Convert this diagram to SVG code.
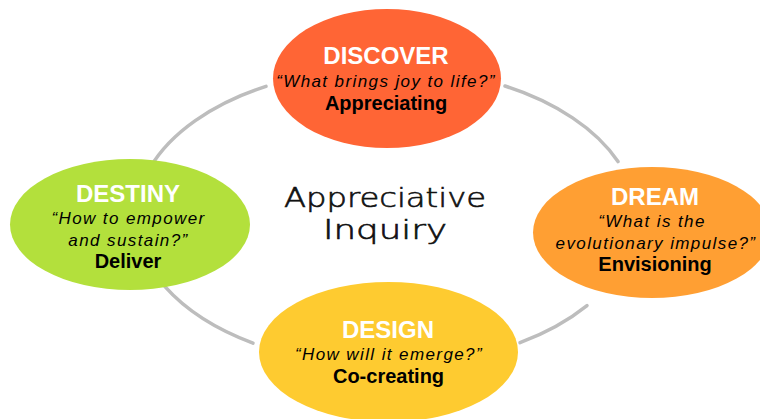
<svg xmlns="http://www.w3.org/2000/svg" width="760" height="419" viewBox="0 0 760 419">
<defs>
<filter id="soft" x="-10%" y="-10%" width="120%" height="120%"><feGaussianBlur stdDeviation="0.7"/></filter>
</defs>
<style>
.arc{fill:none;stroke:#bdbdbd;stroke-width:3.5;stroke-linecap:round;filter:url(#soft)}
.title{font-family:"Liberation Sans",Arial,sans-serif;font-weight:bold;font-size:24px;fill:#ffffff;text-anchor:middle}
.q{font-family:"Liberation Sans",Arial,sans-serif;font-style:italic;font-size:17px;letter-spacing:1.4px;fill:#000;text-anchor:middle}
.sub{font-family:"Liberation Sans",Arial,sans-serif;font-weight:bold;font-size:20px;fill:#000;text-anchor:middle}
.hand{font-family:"Segoe Print","Comic Sans MS","DejaVu Sans",sans-serif;font-size:26px;font-weight:200;fill:#111;stroke:#111;stroke-width:0.6;text-anchor:middle}
</style>
<rect width="760" height="419" fill="#ffffff"/>
<g id="connectors">
<path class="arc" d="M150 167.8 A250 149 0 0 1 266 86.3"/>
<path class="arc" d="M505 86 A250 149 0 0 1 618 161.6"/>
<path class="arc" d="M587 305.6 A250 149 0 0 1 520 342.7"/>
<path class="arc" d="M253 343.2 A250 149 0 0 1 165 286.7"/>
</g>
<g id="center-label">
<text class="hand" x="385" y="207" textLength="202" lengthAdjust="spacingAndGlyphs">Appreciative</text>
<text class="hand" x="385" y="239" textLength="124" lengthAdjust="spacingAndGlyphs">Inquiry</text>
</g>
<g id="discover">
<ellipse cx="387" cy="78.5" rx="114" ry="69.5" fill="#ff6535"/>
<text class="title" x="386" y="64">DISCOVER</text>
<text class="q" x="386" y="87">“What brings joy to life?”</text>
<text class="sub" x="386" y="110">Appreciating</text>
</g>
<g id="dream">
<ellipse cx="652" cy="232.5" rx="119" ry="65.5" fill="#ff9f33"/>
<text class="title" x="655" y="205">DREAM</text>
<text class="q" x="652" y="227">“What is the</text>
<text class="q" x="656" y="249">evolutionary impulse?”</text>
<text class="sub" x="655" y="271">Envisioning</text>
</g>
<g id="design">
<ellipse cx="388.5" cy="352" rx="129.5" ry="70" fill="#fecb30"/>
<text class="title" x="388" y="338">DESIGN</text>
<text class="q" x="389" y="360">“How will it emerge?”</text>
<text class="sub" x="388.5" y="383">Co-creating</text>
</g>
<g id="destiny">
<ellipse cx="130" cy="224.5" rx="120" ry="65.5" fill="#b3e03c"/>
<text class="title" x="128" y="202">DESTINY</text>
<text class="q" x="128.5" y="224">“How to empower</text>
<text class="q" x="128.5" y="246">and sustain?”</text>
<text class="sub" x="128" y="268">Deliver</text>
</g>
</svg>
